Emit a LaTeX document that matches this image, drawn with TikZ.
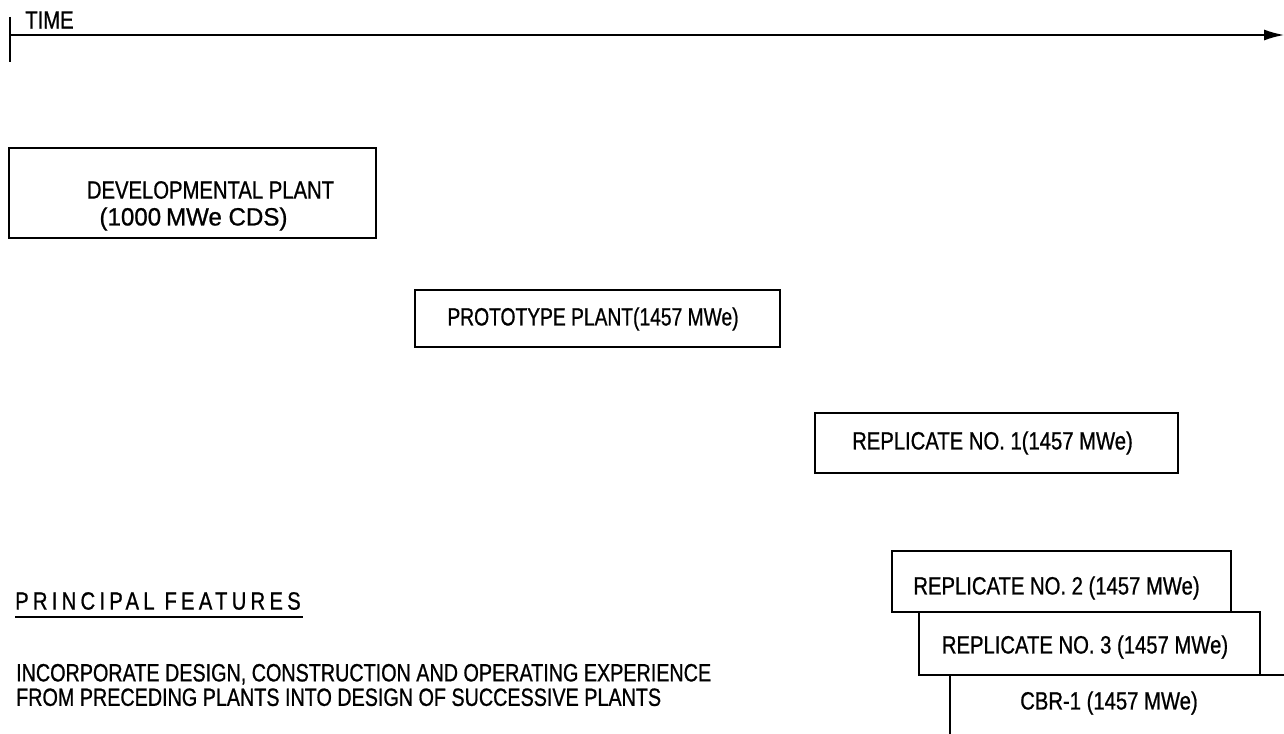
\documentclass[tikz,border=0pt]{standalone}
\usepackage{fontspec}
\usepackage{graphicx}
\setmainfont[FakeStretch=0.81,FakeBold=0.8]{Liberation Sans}
\newfontfamily\spacedfont[FakeStretch=0.81,FakeBold=0.8,LetterSpace=17]{Liberation Sans}
\newfontfamily\bodyfont[FakeStretch=0.79,FakeBold=0.8]{Liberation Sans}
\usetikzlibrary{arrows.meta}

\begin{document}
\begin{tikzpicture}[x=1pt,y=-1pt,
  font=\fontsize{25}{25}\selectfont,
  plantbox/.style={draw, line width=1.6pt, inner sep=0pt},
  plainlabel/.style={inner sep=0pt},
  rule/.style={line width=1.6pt}]
\useasboundingbox (0,0) rectangle (1284,733);

% time axis
\coordinate (tickTop) at (10,17);
\coordinate (tickBot) at (10,62);
\coordinate (axisStart) at (10,35);
\coordinate (axisEnd) at (1284,35);
\draw[rule] (tickTop) -- (tickBot);
\draw[rule, -{Latex[length=20pt,width=11pt]}] (axisStart) -- (axisEnd);
\node[plainlabel] (time) at (49.5,20) {TIME};

% plants along the time axis
\node[plantbox, minimum width=367pt, minimum height=90pt] (dev) at (192.5,193) {};
\node[plainlabel] (devA) at (210.5,190) {DEVELOPMENTAL PLANT};
\node[plainlabel] (devB) at (193.5,219) {\scalebox{1.19}[1]{(1000\,MWe CDS)}};

\node[plantbox, minimum width=365pt, minimum height=57pt] (proto) at (597.5,318.5) {};
\node[plainlabel] (protoT) at (593,319) {\scalebox{0.95}[1]{PROTOTYPE PLANT(1457 MWe)}};

\node[plantbox, minimum width=363pt, minimum height=60pt] (rep1) at (996.5,443) {};
\node[plainlabel] (rep1T) at (992.5,443) {REPLICATE NO. 1(1457 MWe)};

\node[plantbox, minimum width=339pt, minimum height=61pt] (rep2) at (1061.5,581.5) {};
\node[plainlabel] (rep2T) at (1056.5,588) {REPLICATE NO. 2 (1457 MWe)};

\node[plantbox, minimum width=341pt, minimum height=63pt] (rep3) at (1089.5,643.5) {};
\node[plainlabel] (rep3T) at (1085,647) {REPLICATE NO. 3 (1457 MWe)};

% last plant runs off the page
\coordinate (cbrRight) at (1290,675);
\coordinate (cbrCorner) at (950,675);
\coordinate (cbrBottom) at (950,740);
\draw[rule] (cbrRight) -- (cbrCorner) -- (cbrBottom);
\node[plainlabel] (cbrT) at (1109,703) {CBR-1 (1457 MWe)};

% features
\node[plainlabel, anchor=west, font=\fontsize{25}{25}\spacedfont] (feat) at (15,601) {PRINCIPAL FEATURES};
\coordinate (ulA) at (15,617);
\coordinate (ulB) at (303,617);
\draw[rule] (ulA) -- (ulB);
\node[plainlabel, anchor=west, align=left, font=\fontsize{25}{24.5}\bodyfont] (featText) at (16,685)
  {INCORPORATE DESIGN, CONSTRUCTION AND OPERATING EXPERIENCE\\
   FROM PRECEDING PLANTS INTO DESIGN OF SUCCESSIVE PLANTS};
\end{tikzpicture}
\end{document}
